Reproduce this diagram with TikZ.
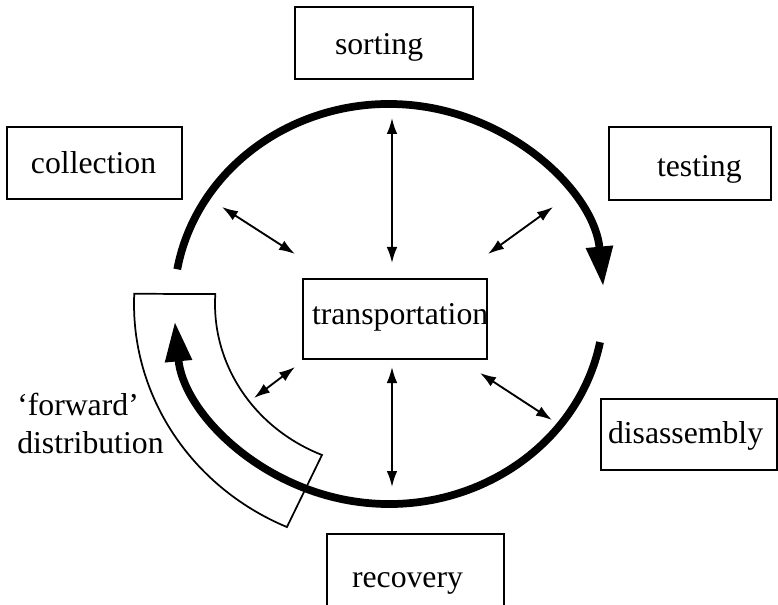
\documentclass[tikz,border=0pt]{standalone}
\usepackage{fontspec}
\setmainfont{Liberation Serif}
\usetikzlibrary{arrows.meta}
% label set inside a box of fixed width, starting a given distance from its left edge
\newcommand\bxtxt[3]{\makebox[#1][l]{\hspace*{#2}#3}}
\begin{document}
\begin{tikzpicture}[x=0.75pt,y=0.75pt,
  font=\fontsize{23.8}{26.2}\selectfont,
  procbox/.style={draw, line width=1.4pt, inner sep=0pt, text depth=0pt},
  link/.style={line width=1.4pt,
    {Latex[length=12pt,width=8pt]}-{Latex[length=12pt,width=8pt]}},
  flow/.style={line width=5.8pt, line cap=butt,
    -{Triangle[length=30pt,width=19pt]}},
  band/.style={line width=1.3pt}]
\useasboundingbox (0,0) rectangle (778,604);
\clip (0,0) rectangle (778,604);

% process boxes
\node[procbox, minimum height=54pt, text height=18pt] (sorting) at (384,561)
  {\bxtxt{133.5pt}{30pt}{sorting}};
\node[procbox, minimum height=54pt, text height=16.5pt] (collection) at (94.5,441)
  {\bxtxt{131.25pt}{18pt}{collection}};
\node[procbox, minimum height=54.75pt, text height=20.25pt] (testing) at (690,440.5)
  {\bxtxt{121.5pt}{36pt}{testing}};
\node[procbox, minimum height=60pt, text height=9pt] (transport) at (395,285)
  {\bxtxt{138pt}{6.75pt}{transportation}};
\node[procbox, minimum height=53.25pt, text height=12.75pt] (disassembly) at (689,169.5)
  {\bxtxt{132pt}{5.25pt}{disassembly}};
\node[procbox, minimum height=64.5pt, text height=15pt] (recovery) at (415.5,27)
  {\bxtxt{132.75pt}{18.75pt}{recovery}};

% caption of the forward-distribution band (anchored at its last baseline)
\node[anchor=base west, align=left, inner sep=0pt] (fwd) at (17,151)
  {‘forward’\\[2.25pt]distribution};

% centre of the cycle
\coordinate (hub) at (389,300);

% forward-distribution band along the lower left of the cycle
\draw[band] (hub) ++(177.6:255 and 243.4)
  arc[start angle=177.6, end angle=246.4, x radius=255, y radius=243.4]
  -- ([shift={(247.35:174 and 163.6)}]hub)
  arc[start angle=247.35, end angle=176.5, x radius=174, y radius=163.6]
  -- cycle;

% the cycle itself
\draw[flow] ([shift={(170:215 and 200)}]hub)
  arc[start angle=170, end angle=5, x radius=215, y radius=200];
\draw[flow] ([shift={(-11:215 and 200)}]hub)
  arc[start angle=-11, end angle=-175, x radius=215, y radius=200];

% exchanges with transportation
\coordinate (ul1) at (222,397); \coordinate (ul2) at (295,350);
\coordinate (tc1) at (392,486); \coordinate (tc2) at (392,341);
\coordinate (ur1) at (553,397); \coordinate (ur2) at (488,350);
\coordinate (ll1) at (295,237); \coordinate (ll2) at (254,206);
\coordinate (bc1) at (392,237); \coordinate (bc2) at (392,117);
\coordinate (lr1) at (480,231); \coordinate (lr2) at (552,184);
\draw[link] (ul1) -- (ul2);
\draw[link] (tc1) -- (tc2);
\draw[link] (ur1) -- (ur2);
\draw[link] (ll1) -- (ll2);
\draw[link] (bc1) -- (bc2);
\draw[link] (lr1) -- (lr2);
\end{tikzpicture}
\end{document}
